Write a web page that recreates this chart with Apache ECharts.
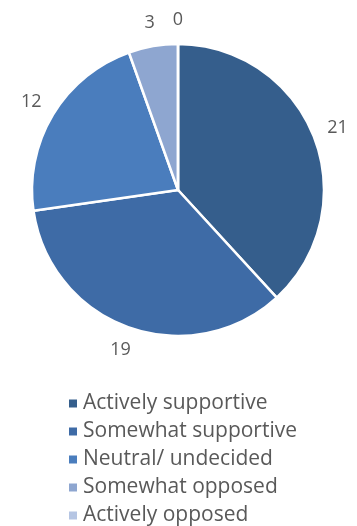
<!DOCTYPE html>
<html>
<head>
<meta charset="utf-8">
<script src="https://cdn.jsdelivr.net/npm/echarts@6/dist/echarts.min.js"></script>
<style>
html,body{margin:0;padding:0;background:#fff;}
#c{width:357px;height:526px;}
</style>
</head>
<body>
<div id="c"></div>
<script>
const categories = ["Actively supportive","Somewhat supportive","Neutral/ undecided","Somewhat opposed","Actively opposed"];
const values = [21, 19, 12, 3, 0];
const colors = ["#355E8C","#3E6BA6","#4A7DBD","#8EA6D0","#B5C5E3"];

const CX = 178, CY = 190;
const chart = echarts.init(document.getElementById('c'));
chart.setOption({
  animation: false,
  color: colors,
  legend: {
    orient: 'vertical',
    left: 67,
    top: 393,
    height: 200,
    padding: 0,
    icon: 'rect',
    itemWidth: 10,
    itemHeight: 10,
    itemGap: 7,
    textStyle: { fontFamily: 'Open Sans', fontSize: 21, color: '#595959', lineHeight: 20 },
    data: categories
  },
  series: [{
    type: 'pie',
    center: [CX, CY],
    radius: 146,
    startAngle: 90,
    clockwise: true,
    minAngle: 0,
    avoidLabelOverlap: false,
    stillShowZeroSum: true,
    itemStyle: { borderColor: '#fff', borderWidth: 2.5 },
    label: {
      show: true,
      position: 'outside',
      formatter: '{c}',
      distanceToLabelLine: 0,
      fontFamily: 'Open Sans',
      fontSize: 18,
      color: '#595959'
    },
    labelLine: { show: false, length: 15, length2: 0 },
    labelLayout: function (p) {
      const r = p.labelRect;
      const mx = r.x + r.width / 2;
      const px = (mx >= CX) ? r.x : r.x + r.width;
      const py = r.y + r.height / 2;
      const vx = px - CX, vy = py - CY;
      const d = Math.sqrt(vx * vx + vy * vy) || 1;
      const ux = vx / d, uy = vy / d;
      return {
        x: px + ux * r.width / 2,
        y: py + uy * r.height / 2,
        align: 'center',
        verticalAlign: 'middle'
      };
    },
    emphasis: { disabled: true },
    data: categories.map((n, i) => ({ name: n, value: values[i] }))
  }]
});
</script>
</body>
</html>
